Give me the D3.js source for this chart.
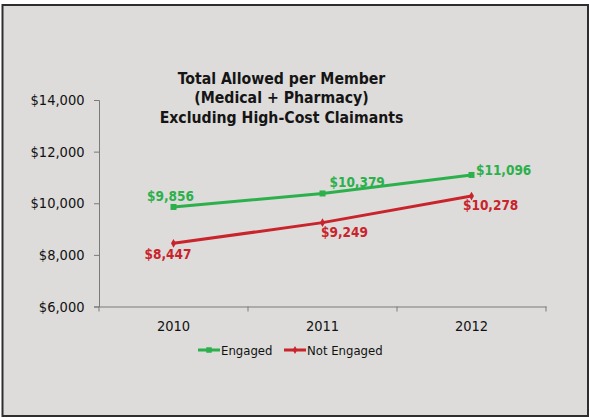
<!DOCTYPE html>
<html>
<head>
<meta charset="utf-8">
<script src="https://cdn.jsdelivr.net/npm/d3@7"></script>
<style>
  body { margin: 0; background: #fff; }
  text { font-family: "DejaVu Sans Condensed", "DejaVu Sans", sans-serif; }
</style>
</head>
<body>
<div id="chart"></div>
<script>
// chart data
const years = ["2010", "2011", "2012"];
const engaged = [9856, 10379, 11096];
const notEngaged = [8447, 9249, 10278];
const yTicks = [6000, 8000, 10000, 12000, 14000];
const titleLines = ["Total Allowed per Member", "(Medical + Pharmacy)", "Excluding High-Cost Claimants"];
const seriesNames = ["Engaged", "Not Engaged"];

// where each data label sits relative to its point
const engagedLabelPos = [
    {anchor: "middle", dx: -3, dy: -6},
    {anchor: "start", dx: 7, dy: -6.5},
    {anchor: "start", dx: 4.5, dy: 0}
];
const notEngagedLabelPos = [
    {anchor: "middle", dx: -5.5, dy: 16},
    {anchor: "start", dx: -1.5, dy: 14},
    {anchor: "start", dx: -8.5, dy: 14}
];

const width = 589, height = 418;
const green = "#2bb04c", red = "#c9232b";

let svg = d3.select("#chart").append("svg")
    .attr("width", width)
    .attr("height", height);

// frame
svg.append("rect")
    .attr("x", 2.5)
    .attr("y", 5)
    .attr("width", 585.5)
    .attr("height", 411)
    .attr("fill", "#dddcda")
    .attr("stroke", "#2e2e2e")
    .attr("stroke-width", 2);

let x = d3.scaleBand().domain(years).range([99, 546]);
let y = d3.scaleLinear().domain([6000, 14000]).range([306.5, 100]);

let fmt = v => "$" + d3.format(",")(v);

// y axis
let yAxis = svg.append("g")
    .attr("transform", "translate(99,0)")
    .call(d3.axisLeft(y).tickValues(yTicks).tickFormat(fmt).tickSize(5).tickPadding(9.5));
yAxis.select(".domain").attr("stroke", "#7a7a7a");
yAxis.selectAll(".tick line").attr("stroke", "#7a7a7a");
yAxis.selectAll(".tick text")
    .attr("fill", "#111")
    .style("font-size", "14.5px");

// x axis, ticks on category boundaries
let xAxis = svg.append("g")
    .attr("transform", "translate(0,306.5)")
    .call(d3.axisBottom(x).tickSize(0).tickPadding(14));
xAxis.select(".domain").attr("stroke", "#7a7a7a");
xAxis.selectAll(".tick text")
    .attr("fill", "#111")
    .style("font-size", "14.5px");
let bounds = years.map(d => x(d)).concat([x.range()[1]]);
xAxis.selectAll(".bound")
    .data(bounds)
    .enter().append("line")
    .attr("class", "bound")
    .attr("x1", d => d).attr("x2", d => d)
    .attr("y1", 0).attr("y2", 5)
    .attr("stroke", "#7a7a7a");

// title
svg.append("text")
    .attr("x", 281.5)
    .attr("y", 83.5)
    .attr("text-anchor", "middle")
    .style("font-size", "15.7px")
    .style("font-weight", "bold")
    .attr("fill", "#151515")
    .selectAll("tspan")
    .data(titleLines)
    .enter().append("tspan")
    .attr("x", 281.5)
    .attr("dy", (d, i) => i === 0 ? 0 : 19.5)
    .text(d => d);

let cx = d => x(d) + x.bandwidth() / 2;
let line = d3.line().x(d => cx(d.year)).y(d => y(d.value));

function drawSeries(values, color, marker, labelPos) {
    let pts = years.map((yr, i) => ({year: yr, value: values[i]}));
    svg.append("path")
        .datum(pts)
        .attr("d", line)
        .attr("fill", "none")
        .attr("stroke", color)
        .attr("stroke-width", 3);
    svg.selectAll(null)
        .data(pts)
        .enter().append("path")
        .attr("transform", d => "translate(" + cx(d.year) + "," + y(d.value) + ")")
        .attr("d", d3.symbol().type(marker).size(marker === d3.symbolSquare ? 36 : 22))
        .attr("fill", color);
    svg.selectAll(null)
        .data(pts)
        .enter().append("text")
        .attr("x", (d, i) => cx(d.year) + labelPos[i].dx)
        .attr("y", (d, i) => y(d.value) + labelPos[i].dy)
        .attr("text-anchor", (d, i) => labelPos[i].anchor)
        .style("font-size", "13.5px")
        .style("font-weight", "bold")
        .attr("fill", color)
        .text(d => fmt(d.value));
}

drawSeries(engaged, green, d3.symbolSquare, engagedLabelPos);
drawSeries(notEngaged, red, d3.symbolDiamond, notEngagedLabelPos);

// legend
let legendItems = [
    {name: seriesNames[0], color: green, marker: d3.symbolSquare, x: 198},
    {name: seriesNames[1], color: red, marker: d3.symbolDiamond, x: 284}
];
let legend = svg.selectAll(".legend")
    .data(legendItems)
    .enter().append("g")
    .attr("class", "legend")
    .attr("transform", d => "translate(" + d.x + ",350)");
legend.append("line")
    .attr("x1", 0).attr("x2", 22)
    .attr("stroke", d => d.color)
    .attr("stroke-width", 3);
legend.append("path")
    .attr("transform", "translate(11,0)")
    .attr("d", d => d3.symbol().type(d.marker).size(d.marker === d3.symbolSquare ? 30 : 18)())
    .attr("fill", d => d.color);
legend.append("text")
    .attr("x", 23)
    .attr("y", 4.5)
    .style("font-size", "13px")
    .attr("fill", "#111")
    .text(d => d.name);
</script>
</body>
</html>
